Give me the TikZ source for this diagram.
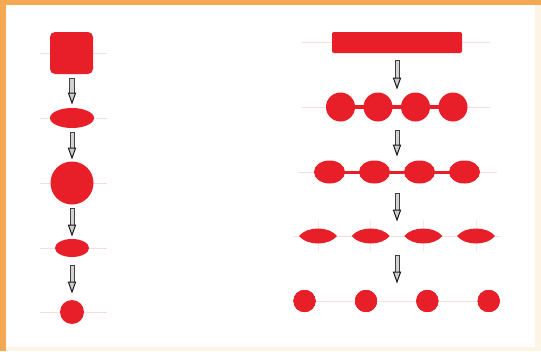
\documentclass[tikz,border=0pt]{standalone}
\usetikzlibrary{shapes.geometric,calc}
\definecolor{cellred}{RGB}{232,30,40}
\definecolor{frameorange}{RGB}{245,168,82}
\definecolor{cream}{RGB}{253,244,230}
\definecolor{ghost}{RGB}{247,222,222}
\newcommand\garrow[2]{%
  \path (#1) coordinate (gA) (#2) coordinate (gB);
  \path[shaft] ($(gA)+(-1.9,0)$) rectangle ($(gB)+(1.9,-9)$);
  \path[head] ($(gB)+(-3.6,-10)$) -- ($(gB)+(3.6,-10)$) -- (gB) -- cycle;}
\newcommand\lens[2]{%
  \begin{scope}[shift={(#1,#2)}]
  \fill[cellred] (-19,0) .. controls (-11,-10) and (11,-10) .. (19,0)
    .. controls (11,10) and (-11,10) .. (-19,0) -- cycle;
  \end{scope}}
\begin{document}
\begin{tikzpicture}[x=1pt,y=-1pt,
  blob/.style={fill=cellred, draw=none, inner sep=0pt, outer sep=0pt},
  round/.style={blob, circle, minimum size=#1},
  oval/.style 2 args={blob, ellipse, minimum width=#1, minimum height=#2},
  box/.style 2 args={blob, rectangle, minimum width=#1, minimum height=#2},
  ghostline/.style={draw=ghost, line width=0.9pt},
  shaft/.style={fill=gray!35, draw=black!75, line width=0.6pt},
  head/.style={fill=gray!40, draw=black!90, line width=1pt, line join=miter}]
% frame
\fill[cream] (0,0) rectangle (541,351);
\fill[white] (6,5) rectangle (535,347);
\fill[frameorange] (0,0) rectangle (541,4.5);
\fill[frameorange] (0,0) rectangle (5.5,351);
\useasboundingbox (0,0) rectangle (541,351);
% ghost lines
\foreach \yy in {53,118,183,248,312} \draw[ghostline] (40,\yy) -- (107,\yy);
\draw[ghostline] (302,42.5) -- (490,42.5);
\draw[ghostline] (302,107) -- (490,107);
\draw[ghostline] (298,172) -- (497,172);
\draw[ghostline] (293,236) -- (500,236);
\draw[ghostline] (293,301) -- (500,301);
\foreach \xx in {318,370.7,423.3,476} \draw[draw=ghost!60, line width=0.6pt] (\xx,220) -- (\xx,252);
% left column
\node[box={43}{42}, rounded corners=5pt] (sq) at (71.5,53) {};
\node[oval={44}{20}] (el1) at (72,118) {};
\node[round=43] (ci1) at (72,183) {};
\node[oval={34}{18}] (el2) at (72,248) {};
\node[round=24] (ci2) at (72,312) {};
\garrow{$(sq.south)+(0,4)$}{$(el1.north)+(0,-5)$}
\garrow{$(el1.south)+(0,4)$}{$(ci1.north)+(0,-3.5)$}
\garrow{$(ci1.south)+(0,3.5)$}{$(el2.north)+(0,-4)$}
\garrow{$(el2.south)+(0,8)$}{$(ci2.north)+(0,-8)$}
% right column
\node[box={130}{21}, rounded corners=2pt] (bar) at (397,42.5) {};
\fill[cellred] (340.5,105) rectangle (453,109);
\foreach \xx/\nm in {340.5/b1,378/b2,415.5/b3,453/b4}
  \node[round=29] (\nm) at (\xx,107) {};
\fill[cellred] (329.5,170.5) rectangle (464.5,173.5);
\foreach \xx/\nm in {329.5/e1,374.5/e2,419.5/e3,464.5/e4}
  \node[oval={31}{23}] (\nm) at (\xx,172) {};
\foreach \xx in {318,370.7,423.3,476} \lens{\xx}{236}
\foreach \xx/\nm in {304.5/d1,366/d2,427.3/d3,488.7/d4}
  \node[round=22] (\nm) at (\xx,301) {};
\garrow{$(bar.south)+(0,7)$}{$(b2.north-|bar.south)+(0,-4.5)$}
\garrow{$(b2.south-|bar.south)+(0,8.5)$}{$(e2.north-|bar.south)+(0,-5.5)$}
\garrow{$(e2.south-|bar.south)+(0,9.5)$}{397,220}
\garrow{397,255}{$(d2.north-|bar.south)+(0,-8)$}
\end{tikzpicture}
\end{document}
